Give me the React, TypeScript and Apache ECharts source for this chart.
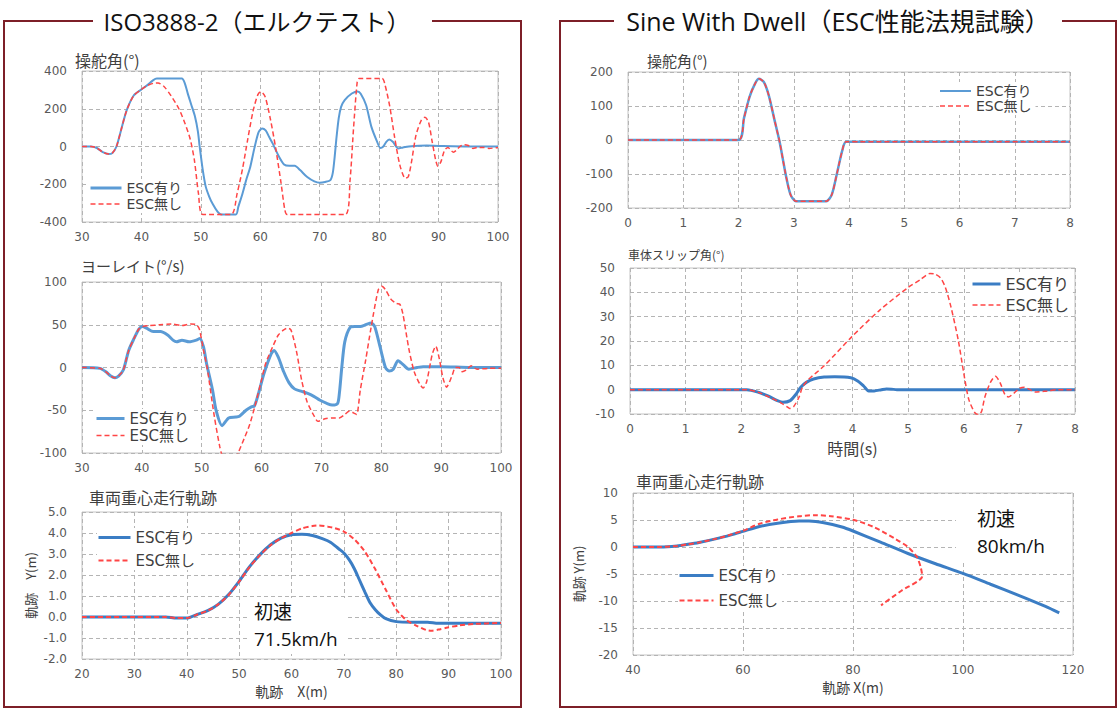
import { useEffect, useRef } from 'react';
import * as echarts from 'echarts';

// ---------------- data ----------------
// ISO3888-2 : steering angle (deg) vs X (m)
const elkSteerOnX = [30, 31.5, 32.5, 33.5, 34.5, 35.1, 35.8, 36.6, 37.5, 38.7, 39.9, 41, 42, 42.6, 46.8, 47.3, 47.8, 48.4, 49, 49.5, 49.8, 50.3, 50.8, 51.4, 52, 52.8, 53.4, 55.9, 56.3, 57, 57.7, 58.3, 59, 59.7, 60.3, 60.9, 61.5, 62.1, 63, 64, 64.9, 65.8, 66.7, 67.9, 69.1, 70, 70.9, 71.8, 72.2, 72.5, 72.8, 73.2, 73.6, 74.2, 75.4, 76.4, 76.9, 77.8, 78.7, 79.6, 80.2, 80.7, 81.2, 81.7, 82.3, 83.2, 84, 85, 88, 90, 95, 100];
const elkSteerOnY = [0, 0, -8, -30, -40, -35, 0, 90, 190, 270, 300, 325, 352, 360, 360, 335, 280, 220, 160, 80, 0, -120, -210, -265, -305, -345, -360, -360, -320, -250, -170, -110, -10, 75, 95, 85, 50, 15, -45, -95, -102, -102, -125, -162, -185, -192, -188, -178, -140, -60, 40, 150, 210, 246, 281, 292, 280, 220, 104, 30, -8, 0, 25, 37, 25, -10, -5, 0, 5, 3, 0, 0];
const elkSteerOffX = [30, 31.5, 32.5, 33.5, 34.5, 35.1, 35.8, 36.6, 37.5, 38.7, 39.9, 40.8, 42, 42.8, 43.8, 45, 46.3, 47.3, 48.2, 48.9, 49.6, 50.3, 55.1, 56.1, 57, 57.9, 58.8, 59.6, 60.1, 60.8, 61.7, 62.6, 63.5, 64.1, 64.5, 74.3, 75.1, 75.7, 76.3, 76.6, 80.5, 81, 81.8, 82.6, 83.5, 84.4, 84.9, 85.4, 86.2, 87.1, 87.7, 88.3, 88.9, 89.5, 89.9, 90.4, 91, 91.6, 92, 92.5, 93, 93.6, 94.3, 95, 95.8, 96.5, 97.5, 98.5, 100];
const elkSteerOffY = [0, 0, -8, -30, -40, -35, 0, 90, 190, 270, 300, 320, 335, 337, 318, 268, 200, 125, 40, -70, -250, -360, -360, -250, -120, 40, 190, 275, 290, 265, 145, -10, -195, -330, -360, -360, -180, 100, 340, 360, 360, 325, 210, 50, -100, -168, -160, -90, 60, 140, 155, 130, 30, -70, -105, -80, -20, -5, -18, -30, -20, 0, 10, 5, -10, -5, -5, -10, -5];

// ISO3888-2 : yaw rate (deg/s) vs X (m)
const elkYawOnX = [30, 33, 34, 34.8, 35.5, 36.1, 36.9, 37.8, 38.7, 39.5, 40.1, 40.8, 41.9, 43.1, 44.3, 45.2, 45.8, 46.7, 47.9, 49.1, 49.7, 50.3, 50.8, 51.8, 52.4, 53.4, 54.5, 55.7, 56.3, 57.4, 58.3, 58.8, 59.5, 60.4, 61.6, 62.1, 62.8, 63.7, 64.6, 65.5, 66.7, 67.6, 68.8, 69.7, 70.9, 71.8, 72.7, 73, 73.4, 73.9, 74.8, 75.6, 76.5, 77.4, 78.3, 78.9, 79.8, 80.7, 81.3, 82, 82.8, 83.7, 84.6, 86, 87, 90, 95, 100];
const elkYawOnY = [0, -1, -5, -10, -12, -10, -3, 20, 34, 45, 48, 46, 42, 42, 38, 32, 30, 32, 30, 32, 34, 24, 5, -26, -50, -68, -59, -58, -57, -50, -46, -45, -30, -7, 16, 20, 12, -5, -18, -25, -28, -30, -34, -38, -42, -44, -42, -30, 0, 30, 47, 48, 48, 50, 52, 48, 24, 0, -4, -2, 8, 3, -2, 0, 1, 1, 0, 0];
const elkYawOffX = [30, 33, 34, 34.8, 35.5, 36.1, 36.9, 37.8, 38.7, 39.5, 40.2, 41.3, 43, 44.9, 46.7, 48.2, 49.1, 49.6, 50.3, 50.9, 52.1, 53, 53.5, 54.5, 55.5, 56.1, 57.1, 58, 58.9, 59.8, 60.7, 61.9, 62.8, 63.7, 64.3, 64.9, 65.8, 66.7, 67.6, 68.8, 69.4, 70.6, 71.8, 73, 73.9, 74.7, 75.6, 75.9, 76.5, 77.4, 78.3, 79.5, 80.1, 80.7, 81.6, 82.5, 83.1, 83.6, 84.6, 85.5, 86.4, 87, 87.6, 88.5, 89.1, 89.7, 90.3, 90.9, 91.8, 92.4, 93, 93.5, 94.2, 95, 96, 98, 100];
const elkYawOffY = [0, -1, -5, -10, -12, -10, -3, 20, 34, 45, 48, 49, 50, 51, 49, 51, 50, 45, 20, 0, -57, -92, -105, -118, -112, -100, -83, -67, -45, -20, 5, 25, 38, 44, 46, 44, 20, -15, -40, -57, -63, -60, -59, -59, -55, -51, -54, -55, -26, 9, 47, 91, 95, 91, 80, 75, 74, 63, 22, -5, -19, -24, -16, 15, 25, 10, -12, -23, -10, 0, 0, -5, -3, 2, -2, -1, -1];

// ISO3888-2 : trajectory Y (m) vs X (m)
const elkTrajOnX = [20, 30, 36, 38, 40, 42, 44, 46, 48, 50, 52, 54, 56, 58, 60, 62, 64, 66, 67.5, 69, 70, 71, 72, 73, 74, 75, 76, 77, 78, 80, 83, 86, 88, 100];
const elkTrajOnY = [0, 0, 0, -0.05, -0.05, 0.12, 0.3, 0.6, 1.07, 1.7, 2.4, 2.97, 3.44, 3.76, 3.92, 3.94, 3.88, 3.72, 3.55, 3.25, 3.05, 2.73, 2.3, 1.75, 1.2, 0.68, 0.35, 0.1, -0.08, -0.22, -0.25, -0.25, -0.3, -0.3];
const elkTrajOffX = [20, 30, 36, 38, 40, 42, 44, 46, 48, 50, 52, 54, 56, 58, 60, 62, 64, 65.3, 67, 68.3, 70, 72, 74, 76, 78, 80, 82, 84, 85.7, 86.7, 88, 89.8, 92, 95, 100];
const elkTrajOffY = [0, 0, 0, -0.05, -0.05, 0.12, 0.3, 0.6, 1.05, 1.68, 2.38, 2.95, 3.42, 3.75, 4.0, 4.22, 4.33, 4.36, 4.3, 4.23, 4.07, 3.7, 3.12, 2.27, 1.3, 0.36, -0.16, -0.43, -0.62, -0.66, -0.6, -0.5, -0.4, -0.33, -0.28];

// Sine With Dwell : steering angle (deg) vs time (s)
const swdSteerT = [0, 2, 2.1, 2.2, 2.3, 2.37, 2.46, 2.55, 2.65, 2.75, 2.85, 2.94, 3.04, 3.59, 3.69, 3.78, 3.88, 3.95, 8];
const swdSteerOn = [0, 0, 65, 127, 166, 180, 170, 130, 60, -10, -98, -160, -180, -180, -160, -100, -30, -5, -5];
const swdSteerOff = [0, 0, 65, 127, 166, 180, 170, 130, 60, -10, -98, -160, -180, -180, -160, -100, -30, -5, -5];

// Sine With Dwell : body slip angle (deg) vs time (s)
const swdSlipOnT = [0, 2.1, 2.3, 2.49, 2.65, 2.75, 2.88, 2.98, 3.07, 3.17, 3.3, 3.49, 3.68, 3.97, 4.1, 4.2, 4.29, 4.39, 4.52, 4.61, 4.7, 4.8, 8];
const swdSlipOnY = [0, 0, -1, -2.7, -4.5, -5.2, -4.5, -2, 1, 3, 4.4, 5.2, 5.3, 4.9, 3.5, 1.5, -0.5, -0.5, 0, 0.3, 0.2, 0, 0];
const swdSlipOffT = [0, 2.1, 2.3, 2.5, 2.72, 2.82, 2.87, 2.94, 3.04, 3.1, 3.2, 3.49, 3.99, 4.49, 5.0, 5.22, 5.39, 5.48, 5.58, 5.67, 5.77, 5.9, 6.0, 6.09, 6.2, 6.27, 6.32, 6.38, 6.48, 6.57, 6.65, 6.74, 6.8, 6.9, 7.0, 7.09, 7.19, 7.28, 7.5, 7.7, 8];
const swdSlipOffY = [0, 0, -1, -3, -5.5, -7, -7.7, -7, -3, 1, 4, 9.8, 21.8, 32.7, 42, 45.2, 47.7, 47.5, 46, 42, 34, 20.5, 6.8, -4, -9.5, -10.3, -9, -3, 3, 5.5, 3, -2, -3, -1.5, 0.5, 1, 0, -1, -0.5, 0, 0];

// Sine With Dwell : trajectory Y (m) vs X (m)
const swdTrajOnX = [40, 45, 48, 50, 52, 55, 58, 60, 63, 66.3, 70.2, 72, 74.7, 78, 80, 85, 90, 95, 100, 105, 110, 115, 117.5];
const swdTrajOnY = [0, 0, 0.2, 0.5, 0.85, 1.5, 2.3, 2.9, 3.8, 4.4, 4.8, 4.8, 4.5, 3.7, 2.96, 0.9, -1.2, -3.1, -4.9, -6.9, -8.9, -11, -12.2];
const swdTrajOffX = [40, 45, 48, 50, 52, 55, 58, 60, 63, 66.3, 70.2, 73.1, 76, 80, 83.8, 87.7, 90, 91.6, 92.3, 92.6, 88.8, 85.1];
const swdTrajOffY = [0, 0, 0.2, 0.5, 0.85, 1.5, 2.35, 3.0, 4.3, 5.1, 5.7, 5.9, 5.7, 5.05, 3.7, 1.5, 0, -1.8, -3.7, -5.4, -8.1, -10.8];

const seriesNames = ['ESC有り', 'ESC無し'];
const panelTitles = ['ISO3888-2（エルクテスト）', 'Sine With Dwell（ESC性能法規試験）'];
const plotTitles = ['操舵角(°)', 'ヨーレイト(°/s)', '車両重心走行軌跡', '操舵角(°)', '車体スリップ角(°)', '車両重心走行軌跡'];
const speedNotes = [['初速', '71.5km/h'], ['初速', '80km/h']];

// ---------------- styles ----------------
const RED = '#ff4545';
const BLUE_L = '#5b9bd5';
const BLUE_D = '#3b7dc4';
const FRAME = '#7d1f28';
const GRID_C = '#b4b4b4';
const TICK_C = '#595959';
const TEXT_C = '#404040';
const TICK_FONT = "'DejaVu Sans', 'Noto Sans CJK JP', sans-serif";
const JP_FONT = "'Noto Sans CJK JP', 'DejaVu Sans', sans-serif";
const TITLE_FONT = "'Open Sans', 'Noto Sans CJK JP', sans-serif";
const DASH = [5, 3];

const pairs = (xs: number[], ys: number[]) => xs.map((x, i) => [x, ys[i]]);

function line(gi: number, name: string, xs: number[], ys: number[], color: string, width: number, dashed: boolean) {
  return {
    type: 'line',
    name,
    xAxisIndex: gi,
    yAxisIndex: gi,
    data: pairs(xs, ys),
    symbol: 'none',
    smooth: 0.25,
    clip: true,
    z: dashed ? 3 : 2,
    lineStyle: { color, width, type: dashed ? DASH : 'solid' },
    itemStyle: { color },
  };
}

function xAx(gi: number, min: number, max: number, interval: number, name?: string, nameGap?: number, nameSize?: number) {
  return {
    type: 'value', gridIndex: gi, min, max, interval,
    axisLine: { show: false }, axisTick: { show: false },
    splitLine: { show: true, lineStyle: { color: GRID_C, type: [4, 3], width: 1 } },
    axisLabel: { color: TICK_C, fontSize: 12, fontFamily: TICK_FONT, margin: 9, showMinLabel: true, showMaxLabel: true },
    name: name || '', nameLocation: 'middle', nameGap: nameGap || 20,
    nameTextStyle: { color: TEXT_C, fontSize: nameSize || 14, fontFamily: JP_FONT },
  };
}

function yAx(gi: number, min: number, max: number, interval: number, decimals?: number, name?: string, nameGap?: number) {
  return {
    type: 'value', gridIndex: gi, min, max, interval,
    axisLine: { show: false }, axisTick: { show: false },
    splitLine: { show: true, lineStyle: { color: GRID_C, type: [4, 3], width: 1 } },
    axisLabel: {
      color: TICK_C, fontSize: 12, fontFamily: TICK_FONT, margin: 15, showMinLabel: true, showMaxLabel: true,
      formatter: decimals ? (v: number) => v.toFixed(decimals) : undefined,
    },
    name: name || '', nameLocation: 'middle', nameGap: nameGap || 40,
    nameTextStyle: { color: TEXT_C, fontSize: 13, fontFamily: JP_FONT },
  };
}

function legend(left: number, top: number, gap: number, fontSize: number, iconW: number, blue: string, blueW: number, redW: number) {
  return {
    left, top, orient: 'vertical', itemGap: gap, itemWidth: iconW, itemHeight: 12,
    padding: [2, 4, 2, 0], backgroundColor: '#fff', selectedMode: false,
    textStyle: { fontSize, color: TEXT_C, fontFamily: TICK_FONT },
    itemStyle: { opacity: 0 },
    data: [
      { name: seriesNames[0], lineStyle: { color: blue, width: blueW, type: 'solid' }, itemStyle: { opacity: 0 } },
      { name: seriesNames[1], lineStyle: { color: RED, width: redW, type: DASH }, itemStyle: { opacity: 0 } },
    ],
  };
}

const grids = [
  { left: 82, top: 71, width: 416, height: 151 },
  { left: 82, top: 282, width: 419, height: 171 },
  { left: 82, top: 512, width: 419, height: 147 },
  { left: 628, top: 72, width: 442, height: 136 },
  { left: 630, top: 268, width: 445, height: 146 },
  { left: 633, top: 493, width: 440, height: 162 },
].map((g) => ({ ...g, show: true, borderColor: '#c4c4c4', borderWidth: 1, containLabel: false }));

const titleText = (text: string, x: number, y: number, size: number, font: string, fill: string, align = 'left') => ({
  type: 'text', x, y, z: 20,
  style: { text, fontSize: size, fontFamily: font, fill, textAlign: align, textVerticalAlign: 'middle' },
});

const option = {
  animation: false,
  backgroundColor: '#fff',
  grid: grids,
  xAxis: [
    xAx(0, 30, 100, 10),
    xAx(1, 30, 100, 10),
    xAx(2, 20, 100, 10, '軌跡　X(m)', 25, 14),
    xAx(3, 0, 8, 1),
    xAx(4, 0, 8, 1, '時間(s)', 26, 16),
    xAx(5, 40, 120, 20, '軌跡 X(m)', 25, 14),
  ],
  yAxis: [
    yAx(0, -400, 400, 200),
    yAx(1, -100, 100, 50),
    yAx(2, -2, 5, 1, 1, '軌跡　Y(m)', 45),
    yAx(3, -200, 200, 100),
    yAx(4, -10, 50, 10),
    yAx(5, -20, 10, 5, 0, '軌跡 Y(m)', 48),
  ],
  legend: [
    legend(89, 179, 2, 14, 31, BLUE_L, 3, 1.5),
    legend(95, 409, 2, 15, 28, BLUE_L, 3, 1.5),
    legend(97, 528, 8, 15, 32, BLUE_D, 3, 2),
    legend(939, 82, 1, 14, 31, BLUE_L, 2, 1.5),
    legend(971, 274, 5, 16, 28, BLUE_D, 3, 1.5),
    legend(678, 566, 10, 15, 34, BLUE_D, 3, 2),
  ],
  series: [
    line(0, seriesNames[0], elkSteerOnX, elkSteerOnY, BLUE_L, 2, false),
    line(0, seriesNames[1], elkSteerOffX, elkSteerOffY, RED, 1.5, true),
    line(1, seriesNames[0], elkYawOnX, elkYawOnY, BLUE_L, 3, false),
    line(1, seriesNames[1], elkYawOffX, elkYawOffY, RED, 1.5, true),
    line(2, seriesNames[0], elkTrajOnX, elkTrajOnY, BLUE_D, 3, false),
    line(2, seriesNames[1], elkTrajOffX, elkTrajOffY, RED, 2, true),
    line(3, seriesNames[0], swdSteerT, swdSteerOn, BLUE_L, 2.5, false),
    line(3, seriesNames[1], swdSteerT, swdSteerOff, RED, 1.5, true),
    line(4, seriesNames[0], swdSlipOnT, swdSlipOnY, BLUE_D, 3, false),
    line(4, seriesNames[1], swdSlipOffT, swdSlipOffY, RED, 1.5, true),
    line(5, seriesNames[0], swdTrajOnX, swdTrajOnY, BLUE_D, 3, false),
    line(5, seriesNames[1], swdTrajOffX, swdTrajOffY, RED, 2, true),
  ],
  graphic: [
    // panel frames
    { type: 'polyline', z: 20, shape: { points: [[93, 21], [4, 21], [4, 707], [521, 707], [521, 21], [432, 21]] }, style: { stroke: FRAME, lineWidth: 2, fill: 'none' } },
    { type: 'polyline', z: 20, shape: { points: [[614, 21], [560, 21], [560, 707], [1116, 707], [1116, 21], [1062, 21]] }, style: { stroke: FRAME, lineWidth: 2, fill: 'none' } },
    titleText(panelTitles[0], 257, 21, 24, TITLE_FONT, '#111', 'center'),
    titleText(panelTitles[1], 838, 21, 25, TITLE_FONT, '#111', 'center'),
    titleText(plotTitles[0], 75, 60, 16, JP_FONT, TEXT_C),
    titleText(plotTitles[1], 81, 265, 15, JP_FONT, TEXT_C),
    titleText(plotTitles[2], 89, 497, 16, JP_FONT, TEXT_C),
    titleText(plotTitles[3], 647, 60, 15, JP_FONT, TEXT_C),
    titleText(plotTitles[4], 628, 254, 12, JP_FONT, TEXT_C),
    titleText(plotTitles[5], 636, 481, 16, JP_FONT, TEXT_C),
    // speed notes with white boxes
    { type: 'rect', z: 1, shape: { x: 248, y: 598, width: 98, height: 56 }, style: { fill: '#fff' } },
    titleText(speedNotes[0][0], 254, 612, 19, TITLE_FONT, '#111'),
    titleText(speedNotes[0][1], 254, 639, 19, TITLE_FONT, '#111'),
    { type: 'rect', z: 1, shape: { x: 956, y: 494, width: 116, height: 66 }, style: { fill: '#fff' } },
    titleText(speedNotes[1][0], 977, 519, 19, TITLE_FONT, '#111'),
    titleText(speedNotes[1][1], 977, 546, 19, TITLE_FONT, '#111'),
  ],
};

export default function App() {
  const ref = useRef<HTMLDivElement>(null);
  useEffect(() => {
    const chart = echarts.init(ref.current!, null, { renderer: 'svg', width: 1120, height: 711 });
    chart.setOption(option as any);
    return () => chart.dispose();
  }, []);
  return <div ref={ref} style={{ position: 'fixed', left: 0, top: 0, width: 1120, height: 711, background: '#fff' }} />;
}
